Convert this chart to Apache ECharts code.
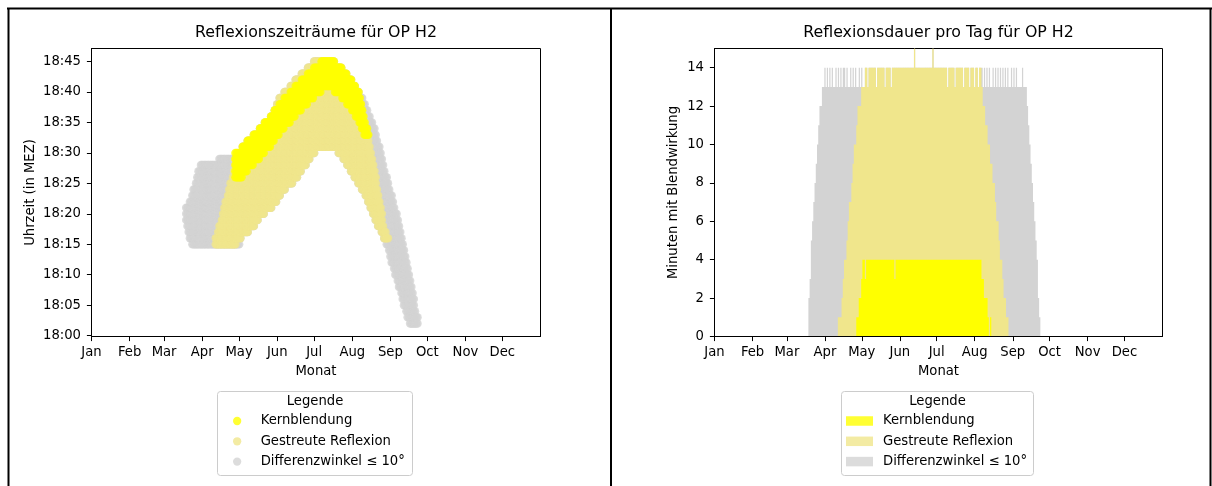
<!DOCTYPE html>
<html><head><meta charset="utf-8">
<script src="https://cdn.jsdelivr.net/npm/echarts@6/dist/echarts.min.js"></script>
<style>html,body{margin:0;padding:0;background:#fff}#c{width:1212px;height:486px}</style>
</head><body><div id="c"></div>
<script>
// ---------- axis labels ----------
const months = ['Jan','Feb','Mar','Apr','May','Jun','Jul','Aug','Sep','Oct','Nov','Dec'];
const monthStartDays = [0,31,59,90,120,151,181,212,243,273,304,334];
const timeTickValues = [0,5,10,15,20,25,30,35,40,45];            // minutes after 18:00
const timeTickLabels = ['18:00','18:05','18:10','18:15','18:20','18:25','18:30','18:35','18:40','18:45'];
const durTickValues = [0,2,4,6,8,10,12,14];
const seriesNames = ['Kernblendung','Gestreute Reflexion','Differenzwinkel \u2264 10\u00b0'];

// ---------- left chart: daily reflection windows (minutes after 18:00) ----------
const diffFirstDay = 77;   // day of year (0 = 1 Jan)
const diffLo = [19,18,17,16,16,15,15,15,15,15, 15,15,15,15,15,15,15,15,15,15,
  15,15,15,15,15,15,15,15,15,15, 15,15,15,15,15,15,15,15,15,15,
  15,15,15,15,16,17,17,17,17,17, 17,18,18,18,18,18,19,19,19,20,
  20,20,20,20,21,21,21,21,21,21, 22,22,22,22,23,23,23,24,24,24,
  24,25,25,25,25,25,25,26,26,26, 26,27,27,27,28,28,28,28,29,29,
  29,30,30,30,30,31,31,31,31,31, 31,31,31,31,31,31,31,31,31,31,
  31,31,31,31,30,30,30,30,29,29, 29,28,28,28,27,27,27,26,26,26,
  25,25,25,24,24,24,23,23,22,22, 21,21,20,20,19,19,18,18,18,17,
  17,16,16,15,15,14,13,12,12,11, 10,10,9,8,8,7,6,5,5,4,
  3,3,2,2,2,2,2,2,2];
const diffHi = [21,21,21,22,22,23,24,24,25,26, 27,27,28,28,28,28,28,28,28,28,
  28,28,28,28,28,28,28,29,29,29, 29,29,29,29,29,29,29,29,29,29,
  29,29,29,29,29,29,31,31,31,31, 32,32,32,32,32,33,33,33,33,33,
  34,34,34,34,35,35,35,35,35,36, 36,36,37,37,38,38,39,39,39,39,
  40,40,40,40,40,41,41,41,41,42, 42,42,42,42,43,43,43,43,43,44,
  44,44,44,44,45,45,45,45,45,45, 45,45,45,45,45,45,45,45,45,45,
  45,44,44,44,44,44,44,43,43,43, 43,42,42,42,42,41,41,41,40,40,
  40,39,39,39,38,38,37,37,36,36, 35,35,34,34,33,32,31,31,30,29,
  28,27,26,26,25,24,23,23,22,21, 20,20,19,18,17,16,15,14,13,12,
  11,10,9,8,7,6,4,3,3];

const gestreutFirstDay = 101;
const gestreutLo = [15,15,15,15,15,15,15,15,15,15, 15,15,15,15,15,15,15,16,16,16,
  16,17,17,17,17,17,17,18,18,18, 18,18,19,19,19,20,20,20,20,20,
  21,21,21,21,21,21,22,22,22,22, 23,23,23,24,24,24,24,25,25,25,
  25,25,25,26,26,26,26,27,27,27, 28,28,28,28,29,29,29,30,30,30,
  30,31,31,31,31,31,31,31,31,31, 31,31,31,31,31,31,31,31,31,31,
  30,30,30,30,29,29,29,28,28,28, 27,27,27,26,26,26,25,25,25,24,
  24,24,23,23,22,22,21,21,20,20, 19,19,18,18,18,17,17,16,16,16,
  16];
const gestreutHi = [16,16,17,18,18,19,20,21,22,22, 23,24,25,25,26,27,29,29,29,29,
  29,29,31,31,31,31,32,32,32,32, 32,33,33,33,33,33,34,34,34,34,
  35,35,35,35,35,36,36,36,37,37, 38,38,39,39,39,39,40,40,40,40,
  40,41,41,41,41,42,42,42,42,42, 43,43,43,43,43,44,44,44,44,44,
  45,45,45,45,45,45,45,45,45,45, 45,45,45,45,45,45,45,44,44,44,
  44,44,44,43,43,43,43,42,42,42, 42,41,41,41,40,40,40,39,38,37,
  36,35,34,33,32,31,30,29,28,27, 26,24,23,22,21,20,18,17,17,16,
  16];

const kernFirstDay = 117;
const kernLo = [26,26,26,26,26,26,27,27,27,27, 28,28,28,28,28,29,29,29,29,29,
  30,30,30,30,31,31,31,31,31,32, 32,32,33,33,33,33,34,34,34,34,
  35,35,35,35,35,36,36,36,36,37, 37,37,37,37,38,38,38,38,38,39,
  39,39,39,39,40,40,40,40,40,40, 41,41,41,41,41,41,41,41,41,41,
  41,40,40,40,40,40,40,39,39,39, 39,38,38,38,38,37,37,37,36,36,
  36,35,35,34,34,33,33,33,33];
const kernHi = [30,30,30,30,30,30,31,31,31,31, 32,32,32,32,32,33,33,33,33,33,
  34,34,34,34,35,35,35,35,35,36, 36,36,37,37,37,37,38,38,38,38,
  39,39,39,39,39,40,40,40,40,41, 41,41,41,41,42,42,42,42,42,43,
  43,43,43,43,44,44,44,44,44,44, 45,45,45,45,45,45,45,45,45,45,
  45,44,44,44,44,44,44,43,43,43, 43,42,42,42,42,41,41,41,40,40,
  40,39,38,37,36,35,34,34,33];

// ---------- right chart: minutes with glare per day ----------
const diffMinutesFirstDay = 77;
const diffMinutes = [2,3,5,6,7,8,9,10,11,12, 12,13,13,14,13,14,13,14,13,14,
  13,13,14,13,14,13,14,13,14,14, 13,14,13,13,14,13,14,13,14,13,
  13,14,13,14,13,13,14,14,13,14, 14,14,14,14,14,13,14,14,14,14,
  14,14,13,14,14,14,14,13,14,14, 14,14,14,14,14,14,14,14,14,14,
  14,14,14,14,14,14,15,14,14,14, 14,14,14,14,14,14,14,14,14,14,
  14,15,14,14,14,14,14,14,14,14, 14,14,14,13,14,14,14,14,14,13,
  14,14,14,14,14,14,13,14,14,14, 14,13,14,14,14,13,14,14,13,14,
  14,14,13,14,13,14,13,14,13,13, 14,13,14,13,14,13,14,13,14,13,
  14,13,14,13,13,14,13,14,13,14, 13,13,13,13,14,13,13,13,12,11,
  10,9,8,7,6,5,4,2,1];
const gestreutMinutesFirstDay = 101;
const gestreutMinutes = [1,1,1,2,3,4,4,5,6,7, 7,8,9,10,10,11,12,12,12,13,
  13,13,14,14,13,14,14,14,14,14, 14,13,14,14,14,14,14,14,13,14,
  14,14,14,13,14,14,14,14,14,14, 14,14,14,14,14,14,14,14,14,14,
  14,14,15,14,14,14,14,14,14,14, 14,14,14,14,14,14,14,15,14,14,
  14,14,14,14,14,14,14,14,14,13, 14,14,14,14,14,13,14,14,14,14,
  14,14,13,14,14,14,14,13,14,14, 14,13,14,14,13,14,14,13,12,12,
  11,11,10,10,9,9,8,8,7,6, 6,5,4,4,3,2,2,1,1];
const kernMinutesFirstDay = 116;
const kernMinutes = [1,1,2,2,3,4,4,3,4,4, 4,4,4,4,4,4,4,4,4,4,
  4,4,4,4,4,4,4,4,4,4, 4,3,4,4,4,4,4,4,4,4,
  4,4,4,4,4,4,4,4,4,4, 4,4,4,4,4,4,4,4,4,4,
  4,4,4,4,4,4,4,4,4,4, 4,4,4,4,4,4,4,4,4,4,
  4,4,4,4,4,4,4,4,4,4, 4,4,4,4,4,4,4,4,4,4,
  4,4,3,3,2,2,2,1,0,1];

// ---------- build ----------
function windowPoints(firstDay, lo, hi) {
  const pts = [];
  for (let i = 0; i < lo.length; i++) {
    for (let m = lo[i]; m <= hi[i]; m++) pts.push([firstDay + i, m]);
  }
  return pts;
}
function dayBars(firstDay, vals) { return vals.map((v, i) => [firstDay + i, v]); }

const FONT = 'DejaVu Sans';
const C_KERN = '#ffff00', C_GEST = '#f0e68c', C_DIFF = '#d3d3d3';
const txt = { color: '#000', fontFamily: FONT, fontSize: 13.2, lineHeight: 14 };

function monthAxis(gi) {
  return {
    type: 'value', gridIndex: gi, min: 0, max: 365, z: 5,
    name: 'Monat', nameLocation: 'middle', nameGap: 28, nameTextStyle: txt,
    axisLine: { show: true, onZero: false, lineStyle: { color: '#000', width: 1 } },
    axisTick: { show: true, length: 4.6, lineStyle: { color: '#000', width: 1 }, customValues: monthStartDays },
    axisLabel: Object.assign({ margin: 9.5, customValues: monthStartDays,
      formatter: v => months[monthStartDays.indexOf(v)] }, txt),
    splitLine: { show: false }
  };
}

const option = {
  animation: false,
  textStyle: { fontFamily: FONT },
  grid: [
    { left: 91.5, top: 48.5, width: 449, height: 288, show: true, borderColor: '#000', borderWidth: 1 },
    { left: 714.5, top: 48.5, width: 448, height: 288, show: true, borderColor: '#000', borderWidth: 1 }
  ],
  xAxis: [monthAxis(0), monthAxis(1)],
  yAxis: [
    { type: 'value', gridIndex: 0, min: -0.15, max: 47.15, z: 5,
      name: 'Uhrzeit (in MEZ)', nameLocation: 'middle', nameGap: 54, nameRotate: 90, nameTextStyle: txt,
      axisLine: { show: true, onZero: false, lineStyle: { color: '#000', width: 1 } },
      axisTick: { show: true, length: 4.6, lineStyle: { color: '#000', width: 1 }, customValues: timeTickValues },
      axisLabel: Object.assign({ margin: 10.5, customValues: timeTickValues,
        formatter: v => timeTickLabels[timeTickValues.indexOf(v)] }, txt),
      splitLine: { show: false } },
    { type: 'value', gridIndex: 1, min: 0, max: 15, z: 5,
      name: 'Minuten mit Blendwirkung', nameLocation: 'middle', nameGap: 33.5, nameRotate: 90, nameTextStyle: txt,
      axisLine: { show: true, onZero: false, lineStyle: { color: '#000', width: 1 } },
      axisTick: { show: true, length: 4.6, lineStyle: { color: '#000', width: 1 }, customValues: durTickValues },
      axisLabel: Object.assign({ margin: 10.5, customValues: durTickValues, formatter: v => String(v) }, txt),
      splitLine: { show: false } }
  ],
  legend: [
    { left: 233, top: 414, orient: 'vertical', padding: 0, itemWidth: 27, itemHeight: 8.3, itemGap: 6.3,
      icon: 'circle', selectedMode: false, data: seriesNames,
      textStyle: Object.assign({ padding: [0, 0, 0, 5] }, txt) },
    { left: 846, top: 414, orient: 'vertical', padding: 0, itemWidth: 27, itemHeight: 9.5, itemGap: 6.3,
      icon: 'rect', selectedMode: false, data: seriesNames,
      textStyle: Object.assign({ padding: [0, 0, 0, 5] }, txt) }
  ],
  graphic: [
    { type: 'line', shape: { x1: 7, y1: 8.5, x2: 1212, y2: 8.5 }, style: { stroke: '#000', lineWidth: 2 } },
    { type: 'line', shape: { x1: 8.5, y1: 8, x2: 8.5, y2: 486 }, style: { stroke: '#000', lineWidth: 2 } },
    { type: 'line', shape: { x1: 611, y1: 8, x2: 611, y2: 486 }, style: { stroke: '#000', lineWidth: 2 } },
    { type: 'line', shape: { x1: 1210.5, y1: 8, x2: 1210.5, y2: 486 }, style: { stroke: '#000', lineWidth: 2 } },
    { type: 'text', x: 316, y: 33, style: { text: 'Reflexionszeitr\u00e4ume f\u00fcr OP H2', fill: '#000', font: '15.8px "DejaVu Sans"', align: 'center', verticalAlign: 'middle' } },
    { type: 'text', x: 938.5, y: 33, style: { text: 'Reflexionsdauer pro Tag f\u00fcr OP H2', fill: '#000', font: '15.8px "DejaVu Sans"', align: 'center', verticalAlign: 'middle' } },
    { type: 'rect', shape: { x: 217.5, y: 391.5, width: 195, height: 84, r: 3 }, style: { fill: '#fff', stroke: '#cccccc', lineWidth: 1 } },
    { type: 'rect', shape: { x: 841.5, y: 391.5, width: 192, height: 84, r: 3 }, style: { fill: '#fff', stroke: '#cccccc', lineWidth: 1 } },
    { type: 'text', x: 315, y: 401.5, style: { text: 'Legende', fill: '#000', font: '13.2px "DejaVu Sans"', align: 'center', verticalAlign: 'middle' } },
    { type: 'text', x: 937.5, y: 401.5, style: { text: 'Legende', fill: '#000', font: '13.2px "DejaVu Sans"', align: 'center', verticalAlign: 'middle' } }
  ],
  series: [
    { type: 'scatter', name: seriesNames[2], xAxisIndex: 0, yAxisIndex: 0, data: windowPoints(diffFirstDay, diffLo, diffHi),
      symbol: 'circle', symbolSize: 8.5, itemStyle: { color: C_DIFF }, progressive: 0, large: false, silent: true, z: 2 },
    { type: 'scatter', name: seriesNames[1], xAxisIndex: 0, yAxisIndex: 0, data: windowPoints(gestreutFirstDay, gestreutLo, gestreutHi),
      symbol: 'circle', symbolSize: 8.5, itemStyle: { color: C_GEST }, progressive: 0, large: false, silent: true, z: 2 },
    { type: 'scatter', name: seriesNames[0], xAxisIndex: 0, yAxisIndex: 0, data: windowPoints(kernFirstDay, kernLo, kernHi),
      symbol: 'circle', symbolSize: 8.5, itemStyle: { color: C_KERN }, progressive: 0, large: false, silent: true, z: 2 },
    { type: 'bar', name: seriesNames[2], xAxisIndex: 1, yAxisIndex: 1, data: dayBars(diffMinutesFirstDay, diffMinutes),
      barWidth: '100%', barGap: '-100%', large: true, largeThreshold: 10, progressive: 0, itemStyle: { color: C_DIFF }, silent: true, z: 2 },
    { type: 'bar', name: seriesNames[1], xAxisIndex: 1, yAxisIndex: 1, data: dayBars(gestreutMinutesFirstDay, gestreutMinutes),
      barWidth: '100%', barGap: '-100%', large: true, largeThreshold: 10, progressive: 0, itemStyle: { color: C_GEST }, silent: true, z: 2 },
    { type: 'bar', name: seriesNames[0], xAxisIndex: 1, yAxisIndex: 1, data: dayBars(kernMinutesFirstDay, kernMinutes),
      barWidth: '100%', barGap: '-100%', large: true, largeThreshold: 10, progressive: 0, itemStyle: { color: C_KERN }, silent: true, z: 2 }
  ]
};
const chart = echarts.init(document.getElementById('c'));
chart.setOption(option);
</script></body></html>
